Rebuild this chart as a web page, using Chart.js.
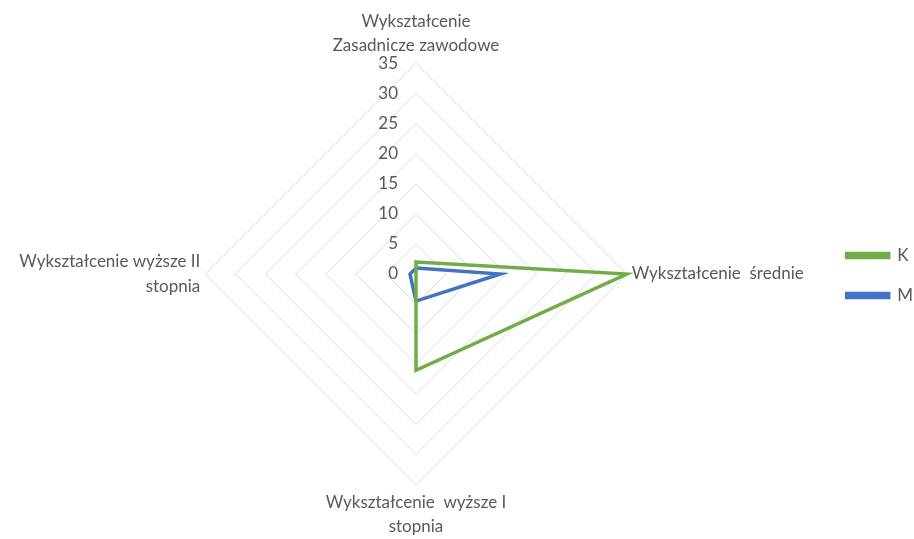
<!DOCTYPE html>
<html>
<head>
<meta charset="utf-8">
<script src="https://cdn.jsdelivr.net/npm/chart.js@4/dist/chart.umd.min.js"></script>
<style>
html,body{margin:0;padding:0;background:#fff;}
#wrap{width:914px;height:539px;position:relative;}
</style>
</head>
<body>
<div id="wrap"><canvas id="c" width="914" height="539"></canvas></div>
<script>
const categories = [
  ["Wykształcenie", "Zasadnicze zawodowe"],
  "Wykształcenie  średnie",
  ["Wykształcenie  wyższe I", "stopnia"],
  ["Wykształcenie wyższe II", "stopnia"]
];
const seriesK = [2, 35, 16, 0];
const seriesM = [1, 14, 4.5, 1];
const tickValues = [0, 5, 10, 15, 20, 25, 30, 35];

const FONT = "Lato";
const TEXT = "#595959";

const tickPlugin = {
  id: "leftTicks",
  afterLayout(chart) {
    const lg = chart.legend;
    if (lg) { lg.top -= 4; lg.bottom -= 4; }
  },
  afterDatasetsDraw(chart) {
    const s = chart.scales.r;
    const ctx = chart.ctx;
    ctx.save();
    ctx.font = "17px " + FONT;
    ctx.fillStyle = TEXT;
    ctx.textAlign = "right";
    ctx.textBaseline = "middle";
    tickValues.forEach(v => {
      const d = s.getDistanceFromCenterForValue(v);
      ctx.fillText(String(v), s.xCenter - 18, s.yCenter - d);
    });
    ctx.restore();
  }
};

new Chart(document.getElementById("c"), {
  type: "radar",
  data: {
    labels: categories,
    datasets: [
      { label: "K", data: seriesK, borderColor: "#70AD47", backgroundColor: "#70AD47", borderWidth: 3.5, fill: false, pointRadius: 0, tension: 0 },
      { label: "M", data: seriesM, borderColor: "#4472C4", backgroundColor: "#4472C4", borderWidth: 3.5, fill: false, pointRadius: 0, tension: 0 }
    ]
  },
  options: {
    responsive: false,
    animation: false,
    layout: { padding: { top: 9, bottom: -11, left: -4, right: -9 } },
    plugins: {
      legend: {
        position: "right",
        labels: { boxWidth: 42, boxHeight: 4, padding: 23, color: TEXT, font: { family: FONT, size: 17 } }
      },
      tooltip: { enabled: false }
    },
    scales: {
      r: {
        min: 0, max: 35,
        ticks: { stepSize: 5, display: false },
        grid: { color: "#D9D9D9", lineWidth: 1 },
        angleLines: { display: false },
        pointLabels: { color: TEXT, font: { family: FONT, size: 17, lineHeight: 1.45 }, padding: 5 }
      }
    }
  },
  plugins: [tickPlugin]
});
</script>
</body>
</html>
